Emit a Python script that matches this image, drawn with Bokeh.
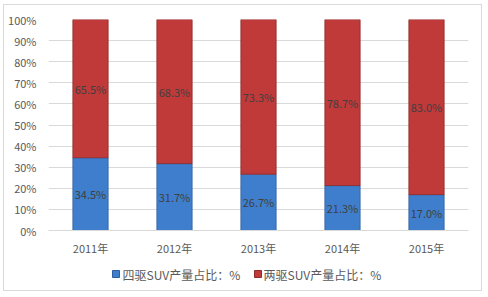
from bokeh.plotting import figure
from bokeh.layouts import column
from bokeh.models import ColumnDataSource, NumeralTickFormatter, FixedTicker, Range1d, FactorRange
from bokeh.core.properties import value
from bokeh.embed import file_html
from bokeh.resources import INLINE

years = ["2011年", "2012年", "2013年", "2014年", "2015年"]
awd = [34.5, 31.7, 26.7, 21.3, 17.0]
twd = [65.5, 68.3, 73.3, 78.7, 83.0]
series_names = ["四驱SUV产量占比：%", "两驱SUV产量占比：%"]

FONT = "Noto Sans CJK SC"
BLUE = "#3F7ECD"
RED = "#C03A3A"
colors = [BLUE, RED]
edge_colors = ["#2E5F9E", "#8E2A2A"]

awd_f = [v / 100 for v in awd]
twd_f = [v / 100 for v in twd]
src = ColumnDataSource(dict(
    x=years, awd=awd_f, twd=twd_f,
    awd_mid=[a / 2 for a in awd_f],
    twd_mid=[a + t / 2 for a, t in zip(awd_f, twd_f)],
    awd_lbl=[f"{v:.1f}%" for v in awd],
    twd_lbl=[f"{v:.1f}%" for v in twd],
))

W = 477
LEFT, RIGHT = 44, 13
p = figure(x_range=FactorRange(*years), y_range=Range1d(0, 1),
           width=W, height=258, output_backend="svg", toolbar_location=None,
           min_border_left=LEFT, min_border_right=RIGHT, min_border_top=14, min_border_bottom=33)
p.outline_line_color = None

p.vbar(x="x", top="awd", bottom=0, width=0.42, source=src, fill_color=BLUE, line_color=edge_colors[0], line_width=0.8)
p.vbar(x="x", top=1.0, bottom="awd", width=0.42, source=src, fill_color=RED, line_color=edge_colors[1], line_width=0.8)

p.text(x="x", y="awd_mid", text="awd_lbl", source=src, text_align="center", text_baseline="middle",
       text_font=value(FONT), text_font_size="11px", text_color="#404040")
p.text(x="x", y="twd_mid", text="twd_lbl", source=src, text_align="center", text_baseline="middle",
       text_font=value(FONT), text_font_size="11px", text_color="#404040")

p.yaxis.ticker = FixedTicker(ticks=[i / 10 for i in range(11)])
p.yaxis.formatter = NumeralTickFormatter(format="0%")
p.yaxis.axis_line_color = None
p.yaxis.major_tick_line_color = None
p.yaxis.minor_tick_line_color = None
p.yaxis.major_label_text_font = FONT
p.yaxis.major_label_text_font_size = "11px"
p.yaxis.major_label_text_color = "#595959"
p.yaxis.major_label_standoff = 6

p.xaxis.axis_line_color = "#D9D9D9"
p.xaxis.major_tick_line_color = None
p.xaxis.minor_tick_line_color = None
p.xaxis.major_label_text_font = FONT
p.xaxis.major_label_text_font_size = "11px"
p.xaxis.major_label_text_color = "#595959"
p.xaxis.major_label_standoff = 3

p.xgrid.grid_line_color = None
p.ygrid.grid_line_color = "#D9D9D9"

# legend strip: a small figure whose x data unit = pixels from the panel's left edge
H2 = 27
lg = figure(x_range=Range1d(LEFT, W - RIGHT), y_range=Range1d(0, H2), width=W, height=H2,
            output_backend="svg", toolbar_location=None,
            min_border_left=LEFT, min_border_right=RIGHT, min_border_top=0, min_border_bottom=0)
lg.axis.visible = False
lg.grid.grid_line_color = None
lg.outline_line_color = None
lg_src = ColumnDataSource(dict(
    mx=[111.5, 253.5], tx=[118, 259], y=[16.5, 16.5],
    label=series_names, color=colors, edge=edge_colors,
))
lg.scatter(x="mx", y="y", marker="square", size=7, fill_color="color", line_color="edge", source=lg_src)
lg.text(x="tx", y="y", text="label", source=lg_src, text_baseline="middle", text_align="left",
        text_font=value(FONT), text_font_size="12px", text_color="#595959")

layout = column(p, lg, spacing=0, margin=(4, 0, 0, 3),
                styles={"border": "1px solid #D9D9D9"})

open("out.html", "w").write(file_html(layout, INLINE))
